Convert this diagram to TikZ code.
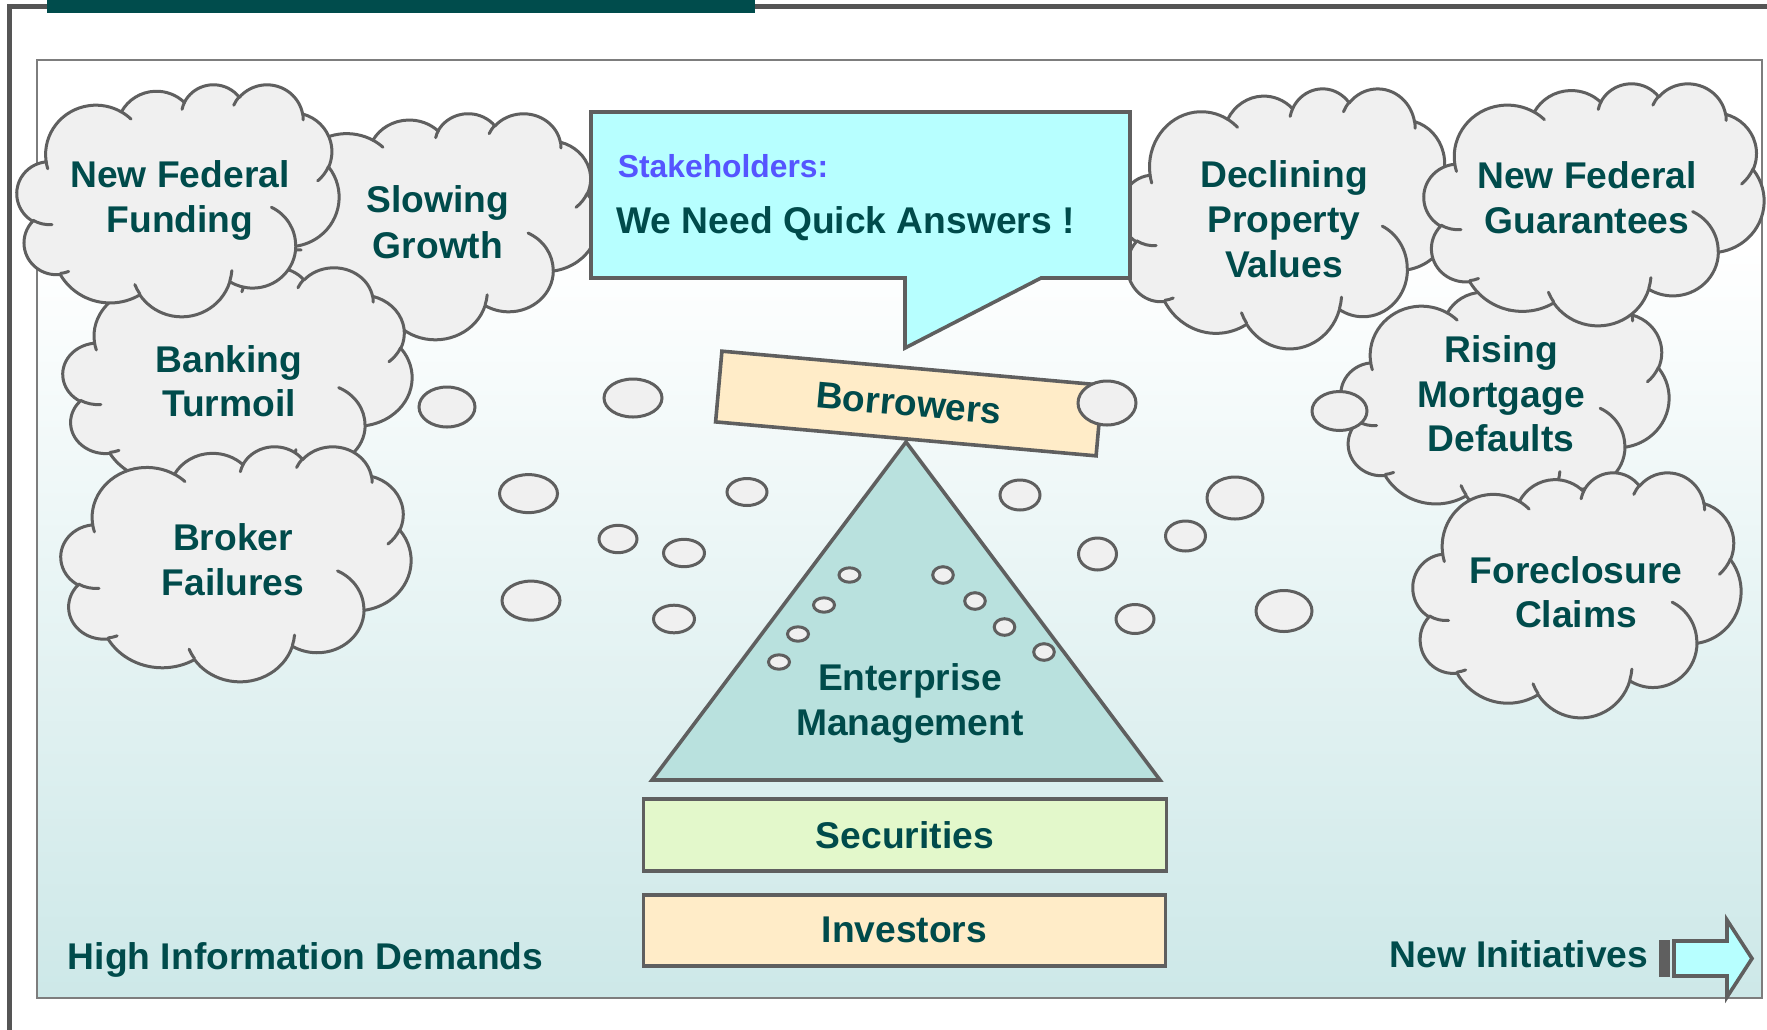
\documentclass[tikz,border=0pt]{standalone}
\usepackage{fontspec}
\setmainfont{Liberation Sans}
\usepackage{tikz}

\definecolor{tealtxt}{RGB}{0,75,75}
\definecolor{tealbar}{RGB}{0,76,76}
\definecolor{lineC}{RGB}{95,95,95}
\definecolor{frameC}{RGB}{85,85,85}
\definecolor{innerC}{RGB}{125,125,125}
\definecolor{cloudF}{RGB}{240,240,240}
\definecolor{cyanF}{RGB}{183,255,255}
\definecolor{stakeC}{RGB}{85,85,255}
\definecolor{peachF}{RGB}{255,236,200}
\definecolor{triF}{RGB}{185,225,222}
\definecolor{greenF}{RGB}{227,248,203}
\definecolor{bgB}{RGB}{205,232,232}

\pgfdeclareverticalshading{bgshade}{100bp}{color(0bp)=(bgB); color(25bp)=(bgB); color(65bp)=(white); color(100bp)=(white)}

% elliptical arc of the cloud outline: name, x radius, y radius, start angle, sweep (visual angles)
\newcommand\mkarc[5]{%
  \pgfmathsetmacro\caA{atan2((#2)*sin(#4),(#3)*cos(#4))}%
  \pgfmathsetmacro\caB{atan2((#2)*sin((#4)+(#5)),(#3)*cos((#4)+(#5)))}%
  \pgfmathsetmacro\caD{\caB-\caA}%
  \pgfmathsetmacro\caD{ifthenelse(#5>0,ifthenelse(\caD<0,\caD+360,\caD),ifthenelse(\caD>0,\caD-360,\caD))}%
  \edef\mkarctmp{\noexpand\tikzset{#1/.style={start angle=\caA,delta angle=\caD,x radius=#2,y radius=#3}}}%
  \mkarctmp}
\mkarc{ca1}{67.53}{91.90}{-190.4875}{123.7805}
\mkarc{ca2}{53.33}{72.67}{-144.1024}{89.9452}
\mkarc{ca3}{43.65}{59.45}{-145.8079}{99.7230}
\mkarc{ca4}{48.57}{65.95}{-130.9861}{117.2417}
\mkarc{ca5}{53.33}{72.73}{-78.7089}{109.0269}
\mkarc{ca6}{67.75}{92.20}{-46.2673}{130.2690}
\mkarc{ca7}{57.85}{78.67}{0.6250}{114.0333}
\mkarc{ca8}{67.52}{92.15}{22.4516}{115.1726}
\mkarc{ca9}{77.20}{105.43}{66.2426}{75.7110}
\mkarc{ca10}{43.60}{59.18}{-274.9421}{146.7356}
\mkarc{ca11}{43.45}{59.45}{-246.8285}{152.5189}
\mkarc{ci1}{43.45}{59.45}{86.742}{26.4295}
\mkarc{ci2}{43.60}{59.18}{73.6105}{11.4475}
\mkarc{ci3}{67.52}{92.15}{137.6242}{14.0811}
\mkarc{ci4}{67.52}{92.15}{6.4533}{15.9984}
\mkarc{ci5}{57.85}{78.67}{-70.2924}{70.9174}
\mkarc{ci6}{53.33}{72.73}{30.3180}{27.7515}
\mkarc{ci7}{48.57}{65.95}{-13.7443}{14.8622}
\mkarc{ci8}{48.57}{65.95}{-149.1815}{18.1954}
\mkarc{ci9}{43.65}{59.45}{-163.4943}{17.6864}
\mkarc{ci10}{67.53}{91.90}{-66.7070}{12.3194}
\mkarc{ci11}{67.53}{91.90}{157.6544}{11.8582}

\newcommand\bigfont{\bfseries\fontsize{18.6pt}{22.5pt}\selectfont}

\tikzset{
  cloudline/.style={draw=lineC, line width=1.5pt, line join=round, line cap=round},
  bub/.style={draw=lineC, fill=cloudF, line width=1.5pt},
  boxline/.style={draw=lineC, line width=1.8pt, line join=miter},
  ctext/.style={font=\bigfont, text=tealtxt, anchor=base, inner sep=0pt},
}

% cloud: left, top, width, height (picture units)
\newcommand\drawcloud[4]{%
  \pgfmathsetmacro\cldx{#3/864}%
  \pgfmathsetmacro\cldy{#4/864}%
  \begin{scope}[shift={(#1*0.5pt,-#2*0.5pt)}, x=\cldx pt, y=-\cldy pt]
    \filldraw[cloudline, fill=cloudF] (39.00,143.70) arc[ca1] arc[ca2] arc[ca3] arc[ca4] arc[ca5] arc[ca6]
      arc[ca7] arc[ca8] arc[ca9] arc[ca10] arc[ca11] -- cycle;
    \draw[cloudline] (46.93,261.77) arc[ci1] (69.28,348.99) arc[ci2] (164.78,390.90) arc[ci3]
      (288.27,347.51) arc[ci4] (341.29,229.54) arc[ci5] (417.98,153.54) arc[ci6]
      (383.24,54.26) arc[ci7] (290.78,39.52) arc[ci8] (221.41,47.20) arc[ci9]
      (140.00,51.92) arc[ci10] (41.27,157.89) arc[ci11];
  \end{scope}}

\begin{document}
\begin{tikzpicture}[x=0.5pt,y=-0.5pt]
\useasboundingbox (0,0) rectangle (1767,1029);
% panel
\shade[shading=bgshade] (37,60) rectangle (1762,998);
\draw[innerC, line width=1pt] (37,60) rectangle (1762,998);
\draw[frameC, line width=2.5pt] (9.5,1040) -- (9.5,6.5) -- (1775,6.5);
\fill[tealbar] (47,0) rectangle (755,12.5);

% left clouds
\drawcloud{265}{113}{333}{226}
\drawcloud{63}{267}{349}{227}
\drawcloud{17}{84}{322}{232}
\drawcloud{61}{446}{350}{235}
% right clouds
\drawcloud{1120}{88}{332}{260}
\drawcloud{1341}{285}{328}{232}
\drawcloud{1424}{83}{340}{242}
\drawcloud{1413}{472}{328}{245}

\node[ctext] (nff1) at (180,187) {New Federal};
\node[ctext] (nff2) at (180,232) {Funding};
\node[ctext] (slo1) at (438,212) {Slowing};
\node[ctext] (slo2) at (438,258) {Growth};
\node[ctext] (ban1) at (229,372) {Banking};
\node[ctext] (ban2) at (229,416) {Turmoil};
\node[ctext] (bro1) at (233,550) {Broker};
\node[ctext] (bro2) at (233,595) {Failures};
\node[ctext] (dec1) at (1284,187) {Declining};
\node[ctext] (dec2) at (1284,232) {Property};
\node[ctext] (dec3) at (1284,277) {Values};
\node[ctext] (nfg1) at (1587,188) {New Federal};
\node[ctext] (nfg2) at (1587,233) {Guarantees};
\node[ctext] (ris1) at (1501,362) {Rising};
\node[ctext] (ris2) at (1501,407) {Mortgage};
\node[ctext] (ris3) at (1501,451) {Defaults};
\node[ctext] (for1) at (1576,583) {Foreclosure};
\node[ctext] (for2) at (1576,627) {Claims};

% thought bubbles
\draw[bub] (447,407) ellipse [x radius=28, y radius=20];
\draw[bub] (633,398) ellipse [x radius=29, y radius=19];
\draw[bub] (528.5,493.6) ellipse [x radius=29, y radius=19];
\draw[bub] (747,492) ellipse [x radius=20, y radius=13.5];
\draw[bub] (618,539) ellipse [x radius=19, y radius=13.7];
\draw[bub] (684,553) ellipse [x radius=20.5, y radius=13.7];
\draw[bub] (531,600.6) ellipse [x radius=29, y radius=19.5];
\draw[bub] (674,619) ellipse [x radius=20.5, y radius=13.8];
\draw[bub] (1020,495) ellipse [x radius=20, y radius=15];
\draw[bub] (1097.5,554) ellipse [x radius=19, y radius=16];
\draw[bub] (1185.5,536) ellipse [x radius=20, y radius=15];
\draw[bub] (1235,498) ellipse [x radius=28, y radius=21];
\draw[bub] (1135,619) ellipse [x radius=19, y radius=14.5];
\draw[bub] (1284,611) ellipse [x radius=28, y radius=20.5];
\draw[bub] (1339.5,411) ellipse [x radius=27.5, y radius=19.5];

% pyramid
\draw[boxline, fill=triF] (906,442) -- (1160,780) -- (652,780) -- cycle;
\foreach \p in {(849.5,575),(824,605),(798,634),(779,662)}
  \draw[bub] \p ellipse [x radius=10.5, y radius=7.2];
\foreach \p in {(943,575),(975,601),(1004.5,627),(1044,652)}
  \draw[bub] \p ellipse [x radius=10.3, y radius=8.3];
\node[ctext] (ent1) at (910,690) {Enterprise};
\node[ctext] (ent2) at (910,735) {Management};

% borrowers plank
\node[boxline, fill=peachF, rotate=-5.1, minimum width=191pt, minimum height=35.5pt, inner sep=0pt,
      font=\bigfont, text=tealtxt] (bor) at (909,403.5) {Borrowers};
\draw[bub] (1107,403) ellipse [x radius=29, y radius=22];

% callout
\draw[boxline, fill=cyanF] (591,112) -- (1130,112) -- (1130,278) -- (1041,278) -- (905,348) -- (905,278) -- (591,278) -- cycle;
\node[font=\bfseries\fontsize{15.9pt}{19pt}\selectfont, text=stakeC, anchor=base west, inner sep=0pt] (stk) at (617.5,177) {Stakeholders:};
\node[ctext, anchor=base west] (qa) at (616,233) {We Need Quick Answers !};

% base boxes
\node[boxline, fill=greenF, minimum width=261.4pt, minimum height=36pt, inner sep=0pt,
      font=\bigfont, text=tealtxt] (sec) at (904.9,835) {Securities};
\node[boxline, fill=peachF, minimum width=260.9pt, minimum height=35.5pt, inner sep=0pt,
      font=\bigfont, text=tealtxt] (inv) at (904.4,930.3) {Investors};

% bottom labels
\node[ctext, anchor=base west] (hid) at (67.6,969) {High Information Demands};
\node[ctext, anchor=base east] (ni) at (1648.5,967.5) {New Initiatives};

% striped arrow
\fill[lineC] (1659,940) rectangle (1670,977);
\draw[boxline, fill=cyanF] (1674,941) -- (1727,941) -- (1727,920) -- (1752,958.5) -- (1727,997) -- (1727,976) -- (1674,976) -- cycle;
\end{tikzpicture}
\end{document}
